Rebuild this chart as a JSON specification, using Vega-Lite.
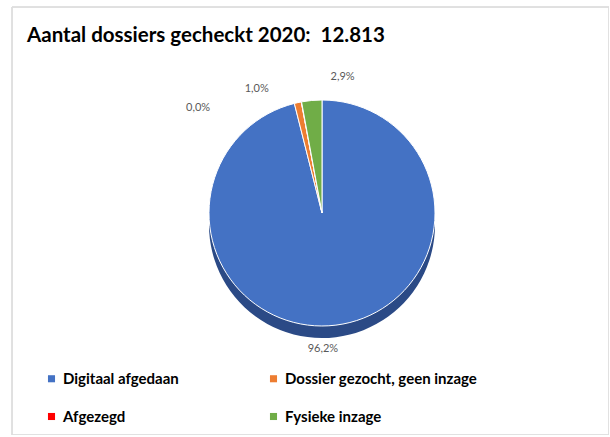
{
  "$schema": "https://vega.github.io/schema/vega-lite/v6.json",
  "width": 597,
  "height": 428,
  "autosize": {"type": "none"},
  "padding": {"left": 12, "top": 7, "right": 0, "bottom": 0},
  "background": "white",
  "config": {"view": {"stroke": null}, "font": "Lato"},
  "title": {
    "text": "Aantal dossiers gecheckt 2020:\u00a0\u00a012.813",
    "anchor": "start",
    "frame": "group",
    "orient": "top",
    "offset": -40,
    "dx": 15,
    "fontSize": 20.5,
    "fontWeight": "bold",
    "font": "Lato",
    "color": "#000000"
  },
  "data": {
    "values": [
      {"cat": "Digitaal afgedaan", "v": 96.2, "o": 1, "label": "96,2%"},
      {"cat": "Dossier gezocht, geen inzage", "v": 1.0, "o": 2, "label": "1,0%"},
      {"cat": "Afgezegd", "v": 0.04, "o": 3, "label": "0,0%"},
      {"cat": "Fysieke inzage", "v": 2.9, "o": 4, "label": "2,9%"}
    ]
  },
  "layer": [
    {
      "mark": {"type": "rect", "fill": "transparent", "stroke": "#dedede", "strokeWidth": 1},
      "encoding": {}
    },
    {
      "mark": {"type": "arc", "outerRadius": 113, "xOffset": 11.5, "yOffset": 4, "color": "#2b4a86", "strokeWidth": 0},
      "encoding": {
        "theta": {"field": "v", "type": "quantitative", "stack": true},
        "order": {"field": "o", "type": "quantitative"}
      }
    },
    {
      "mark": {"type": "arc", "outerRadius": 113, "xOffset": 11.5, "yOffset": -8, "stroke": "#ffffff", "strokeWidth": 1},
      "encoding": {
        "theta": {"field": "v", "type": "quantitative", "stack": true},
        "order": {"field": "o", "type": "quantitative"},
        "color": {
          "field": "cat",
          "type": "nominal",
          "scale": {
            "domain": ["Digitaal afgedaan", "Afgezegd", "Dossier gezocht, geen inzage", "Fysieke inzage"],
            "range": ["#4472c4", "#ff0000", "#ed7d31", "#70ad47"]
          },
          "legend": {
            "orient": "none",
            "legendX": 32,
            "legendY": 364,
            "columns": 2,
            "title": null,
            "symbolType": "square",
            "symbolSize": 50,
            "symbolStrokeWidth": 0,
            "labelFontSize": 15,
            "labelFont": "Lato",
            "labelFontWeight": "bold",
            "labelColor": "#000000",
            "columnPadding": 87,
            "rowPadding": 22,
            "labelLimit": 300
          }
        }
      }
    },
    {
      "mark": {"type": "text", "radius": 137, "xOffset": 11.5, "yOffset": -8, "dx": -16, "dy": 0, "fontSize": 11, "color": "#595959", "font": "Lato"},
      "encoding": {
        "theta": {"field": "v", "type": "quantitative", "stack": true},
        "order": {"field": "o", "type": "quantitative"},
        "text": {"condition": {"test": "datum.o === 1", "field": "label"}, "value": ""}
      }
    },
    {
      "mark": {"type": "text", "radius": 137, "xOffset": 11.5, "yOffset": -8, "dx": -36, "dy": 10, "fontSize": 11, "color": "#595959", "font": "Lato"},
      "encoding": {
        "theta": {"field": "v", "type": "quantitative", "stack": true},
        "order": {"field": "o", "type": "quantitative"},
        "text": {"condition": {"test": "datum.o === 2", "field": "label"}, "value": ""}
      }
    },
    {
      "mark": {"type": "text", "radius": 137, "xOffset": 11.5, "yOffset": -8, "dx": -99, "dy": 30, "fontSize": 11, "color": "#595959", "font": "Lato"},
      "encoding": {
        "theta": {"field": "v", "type": "quantitative", "stack": true},
        "order": {"field": "o", "type": "quantitative"},
        "text": {"condition": {"test": "datum.o === 3", "field": "label"}, "value": ""}
      }
    },
    {
      "mark": {"type": "text", "radius": 137, "xOffset": 11.5, "yOffset": -8, "dx": 33, "dy": 0, "fontSize": 11, "color": "#595959", "font": "Lato"},
      "encoding": {
        "theta": {"field": "v", "type": "quantitative", "stack": true},
        "order": {"field": "o", "type": "quantitative"},
        "text": {"condition": {"test": "datum.o === 4", "field": "label"}, "value": ""}
      }
    }
  ]
}
